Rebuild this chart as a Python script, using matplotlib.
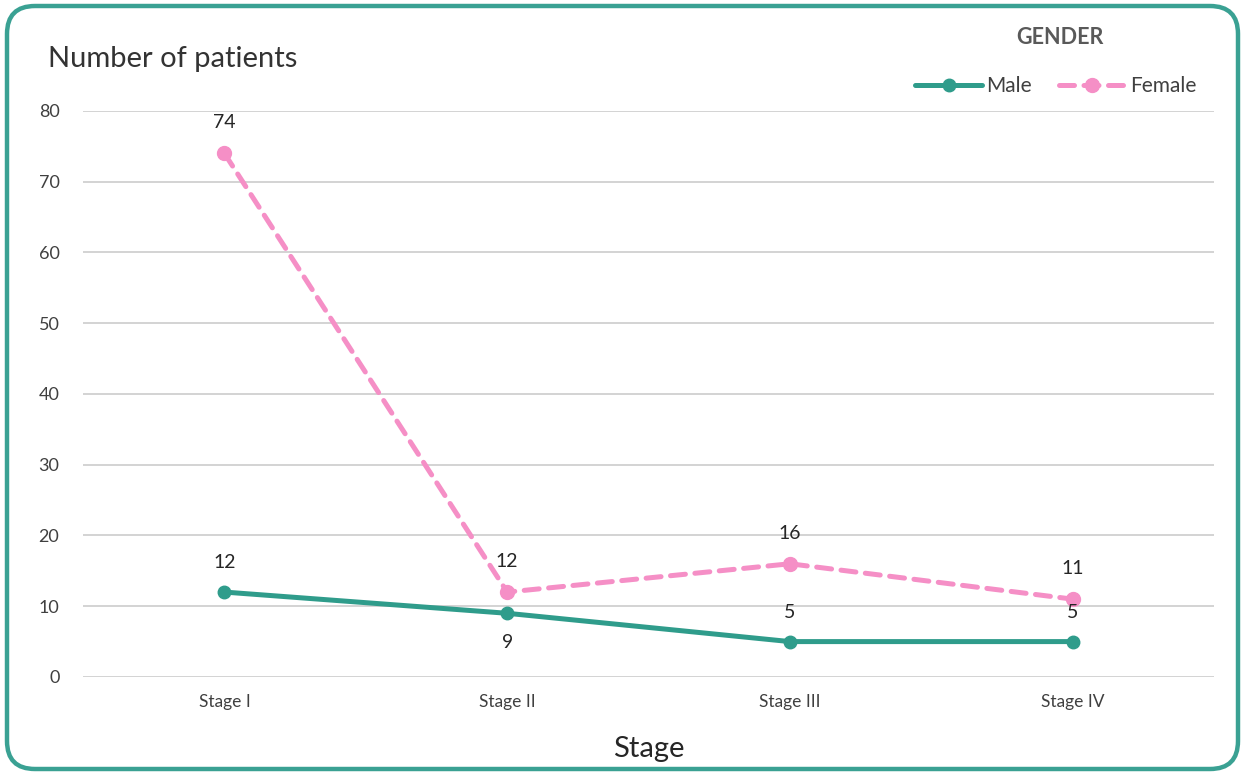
import matplotlib.pyplot as plt
import matplotlib.transforms as mtransforms
from matplotlib.patches import FancyBboxPatch

plt.rcParams['font.family'] = ['Lato', 'DejaVu Sans']

# data
stages = ['Stage I', 'Stage II', 'Stage III', 'Stage IV']
male = [12, 9, 5, 5]
female = [74, 12, 16, 11]
# label placement: +1 above, -1 below
male_pos = [1, -1, 1, 1]
female_pos = [1, 1, 1, 1]

teal = '#2f9c8b'
pink = '#f58fc6'
grid = '#d0d0d0'
txt = '#262626'

fig = plt.figure(figsize=(12.49, 7.75), dpi=100)
ax = fig.add_axes([0.0665, 0.1265, 0.9055, 0.7303])

x = list(range(len(stages)))
ax.plot(x, male, color=teal, lw=3.6, marker='o', ms=9, label='Male',
        solid_capstyle='round', zorder=3)
ax.plot(x, female, color=pink, lw=3.6, marker='o', ms=10, label='Female',
        dashes=(3.0, 1.9), dash_capstyle='round', zorder=3)

for xi, v, p in zip(x, male, male_pos):
    ax.annotate(str(v), (xi, v), xytext=(0, 21 * p), textcoords='offset points',
                ha='center', va='center', fontsize=14, color=txt)
for xi, v, p in zip(x, female, female_pos):
    ax.annotate(str(v), (xi, v), xytext=(0, 22 * p), textcoords='offset points',
                ha='center', va='center', fontsize=14, color=txt)

ax.set_xlim(-0.5, 3.5)
ax.set_ylim(0, 80)
ax.set_yticks(range(0, 81, 10))
ax.set_xticks(x)
ax.set_xticklabels(stages)
ax.yaxis.grid(True, color=grid, lw=1.3)
ax.set_axisbelow(True)
for s in ax.spines.values():
    s.set_visible(False)
ax.tick_params(axis='both', length=0)
ax.tick_params(axis='y', labelsize=13, labelcolor='#404040', pad=17)
ax.tick_params(axis='x', labelsize=12.5, labelcolor='#404040', pad=12)
ax.set_xlabel('Stage', fontsize=21, color=txt, labelpad=19)

fig.text(0.0385, 0.924, 'Number of patients', fontsize=21, color='#333333',
         ha='left', va='center')

fig.text(1060 / 1249, 1 - 38 / 775, 'GENDER', fontsize=15.5, weight='bold',
         color='#595959', ha='center', va='center')
leg = fig.legend(loc='center right', bbox_to_anchor=(1196 / 1249, 1 - 86 / 775), ncol=2,
                 frameon=False, fontsize=15, borderpad=0, borderaxespad=0,
                 handlelength=3.2, columnspacing=1.3, handletextpad=0.2)
for t in leg.get_texts():
    t.set_color('#404040')

# rounded teal frame
frame = FancyBboxPatch((7, 6), 1231, 763, boxstyle='round,pad=0,rounding_size=28',
                       transform=mtransforms.IdentityTransform(),
                       fill=False, ec='#3aa193', lw=3.2, zorder=10)
fig.patches.append(frame)

fig.savefig('out.png', dpi=100)
